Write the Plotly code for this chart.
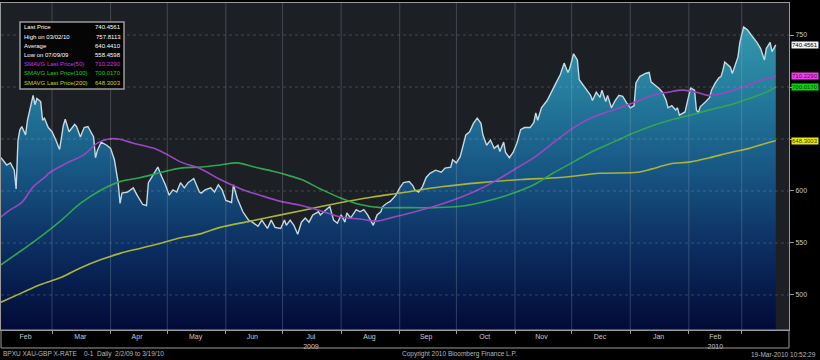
import plotly.graph_objects as go

# ---------------- data ----------------
price_dates = [
 "2009-02-02","2009-02-05","2009-02-07","2009-02-09","2009-02-10","2009-02-11","2009-02-12","2009-02-13",
 "2009-02-15","2009-02-16","2009-02-19","2009-02-20","2009-02-21","2009-02-23","2009-02-24","2009-02-25",
 "2009-02-27","2009-03-01","2009-03-03","2009-03-05","2009-03-07","2009-03-08","2009-03-10","2009-03-13",
 "2009-03-14","2009-03-16","2009-03-18","2009-03-20","2009-03-23","2009-03-24","2009-03-25","2009-03-27",
 "2009-03-30","2009-04-01","2009-04-03","2009-04-05","2009-04-06","2009-04-07","2009-04-10","2009-04-13",
 "2009-04-15","2009-04-18","2009-04-20","2009-04-21","2009-04-22","2009-04-25","2009-04-26","2009-04-28",
 "2009-04-30","2009-05-02","2009-05-04","2009-05-06","2009-05-08","2009-05-10","2009-05-12","2009-05-15",
 "2009-05-18","2009-05-19","2009-05-21","2009-05-24","2009-05-26","2009-05-28","2009-05-30","2009-06-01",
 "2009-06-04","2009-06-05","2009-06-07","2009-06-10","2009-06-13","2009-06-15","2009-06-18","2009-06-20",
 "2009-06-23","2009-06-25","2009-06-27","2009-06-30","2009-07-02","2009-07-03","2009-07-05","2009-07-07",
 "2009-07-09","2009-07-11","2009-07-13","2009-07-15","2009-07-17","2009-07-20","2009-07-21","2009-07-24",
 "2009-07-26","2009-07-28","2009-07-30","2009-08-01","2009-08-03","2009-08-04","2009-08-06","2009-08-09",
 "2009-08-11","2009-08-13","2009-08-15","2009-08-18","2009-08-20","2009-08-22","2009-08-23","2009-08-25",
 "2009-08-27","2009-08-30","2009-09-01","2009-09-03","2009-09-06","2009-09-08","2009-09-09","2009-09-11",
 "2009-09-13","2009-09-15","2009-09-17","2009-09-20","2009-09-23","2009-09-25","2009-09-28","2009-09-29",
 "2009-10-01","2009-10-03","2009-10-06","2009-10-08","2009-10-10","2009-10-12","2009-10-14","2009-10-15",
 "2009-10-17","2009-10-19","2009-10-21","2009-10-23","2009-10-24","2009-10-26","2009-10-27","2009-10-29",
 "2009-10-31","2009-11-02","2009-11-04","2009-11-06","2009-11-09","2009-11-11","2009-11-12","2009-11-13",
 "2009-11-15","2009-11-18","2009-11-21","2009-11-23","2009-11-25","2009-11-27","2009-11-29","2009-11-30",
 "2009-12-02","2009-12-04","2009-12-05","2009-12-07","2009-12-09","2009-12-11","2009-12-12","2009-12-14",
 "2009-12-16","2009-12-17","2009-12-19","2009-12-20","2009-12-22","2009-12-24","2009-12-26","2009-12-28",
 "2009-12-30","2010-01-01","2010-01-03","2010-01-04","2010-01-06","2010-01-09","2010-01-11","2010-01-12",
 "2010-01-14","2010-01-16","2010-01-18","2010-01-20","2010-01-21","2010-01-23","2010-01-25","2010-01-26",
 "2010-01-27","2010-01-30","2010-02-01","2010-02-02","2010-02-04","2010-02-05","2010-02-06","2010-02-07",
 "2010-02-10","2010-02-12","2010-02-13","2010-02-15","2010-02-17","2010-02-18","2010-02-19","2010-02-20",
 "2010-02-23","2010-02-24","2010-02-27","2010-02-28","2010-03-02","2010-03-04","2010-03-06","2010-03-09",
 "2010-03-11","2010-03-13","2010-03-14","2010-03-16","2010-03-17","2010-03-19"]
price_values = [
 632,625,627,620,602,649,659,662,
 654,668,692,683,689,686,668,670,
 661,657,649,640,663,669,657,664,
 662,652,661,662,652,632,639,647,
 644,641,630,608,588,598,599,603,
 596,587,586,608,611,620,623,614,
 606,596,601,599,608,603,608,612,
 599,598,601,603,599,606,601,591,
 589,606,593,580,572,570,566,572,
 564,572,565,564,572,567,572,567,
 558.46,570,574,570,577,580,577,582,
 585,572,569,577,570,579,574,582,
 580,582,577,567,577,580,585,588,
 590,596,603,608,609,605,601,599,
 604,613,617,620,618,622,623,630,
 627,633,654,657,665,670,665,654,
 644,649,641,644,638,647,637,632,
 637,646,659,661,661,666,675,668,
 680,687,697,705,712,723,714,718,
 732,726,707,702,697,692,687,695,
 690,697,686,692,680,687,692,691,
 685,680,682,704,710,713,714,705,
 702,699,695,687,680,682,678,680,
 673,676,692,699,697,678,675,681,
 686,690,697,704,709,710,716,724,
 719,713,729,743,757.81,755,750,743,
 737,726,737,743,734,740.46]

sma50_dates = ["2009-02-02","2009-02-07","2009-02-13","2009-02-19","2009-02-25","2009-02-28","2009-03-09",
 "2009-03-18","2009-03-25","2009-03-31","2009-04-05","2009-04-13","2009-04-24","2009-05-01","2009-05-08",
 "2009-05-19","2009-05-29","2009-06-09","2009-06-19","2009-06-30","2009-07-11","2009-07-21","2009-08-01",
 "2009-08-11","2009-08-20","2009-08-27","2009-09-07","2009-09-19","2009-09-29","2009-10-10","2009-10-21",
 "2009-10-31","2009-11-11","2009-11-21","2009-12-02","2009-12-12","2009-12-23","2010-01-03","2010-01-13",
 "2010-01-21","2010-01-29","2010-02-07","2010-02-11","2010-02-19","2010-02-28","2010-03-09","2010-03-16",
 "2010-03-19"]
sma50_values = [575,582,589,604,613,618,627,
 635,646,650,650,646,641,635,628,
 621,611,602,596,590,586,581,575,
 573,571,574,579,585,591,599,609,
 620,632,646,661,671,678,685,692,
 695,697,694,692,694,699,705,709,
 710.229]

sma100_dates = ["2009-02-02","2009-02-13","2009-02-23","2009-03-06","2009-03-16","2009-03-27","2009-04-06",
 "2009-04-17","2009-04-28","2009-05-08","2009-05-19","2009-05-29","2009-06-07","2009-06-16","2009-06-26",
 "2009-07-04","2009-07-11","2009-07-21","2009-08-01","2009-08-11","2009-08-22","2009-09-01","2009-09-19",
 "2009-10-02","2009-10-14","2009-10-28","2009-11-11","2009-11-21","2009-12-02","2009-12-12","2009-12-23",
 "2010-01-03","2010-01-13","2010-01-22","2010-02-02","2010-02-12","2010-02-23","2010-03-05","2010-03-14",
 "2010-03-19"]
sma100_values = [529,543,556,572,588,601,609,
 613,618,622,623,625,627,623,619,
 615,611,602,593,587,584,584,584,
 585,589,596,606,617,628,638,647,
 656,663,668,673,678,683,689,695,
 700.017]

sma200_dates = ["2009-02-02","2009-02-13","2009-02-23","2009-03-06","2009-03-16","2009-03-27","2009-04-06",
 "2009-04-17","2009-04-28","2009-05-08","2009-05-19","2009-05-29","2009-06-14","2009-06-30","2009-07-16",
 "2009-08-01","2009-08-17","2009-09-01","2009-09-23","2009-10-14","2009-11-04","2009-11-25","2009-12-16",
 "2010-01-05","2010-01-12","2010-01-22","2010-02-02","2010-02-12","2010-02-23","2010-03-05","2010-03-14",
 "2010-03-19"]
sma200_values = [493,502,510,517,526,534,540,
 545,550,555,559,565,571,577,583,
 589,594,598,604,608,611,613,617,
 618,621,626,628,632,637,641,646,
 648.3003]

legend_labels = ["Last Price", "High on 03/02/10", "Average", "Low on 07/09/09",
                 "SMAVG Last Price(50)", "SMAVG Last Price(100)", "SMAVG Last Price(200)"]
legend_values = ["740.4561", "757.8113", "640.4410", "558.4598",
                 "710.2290", "700.0170", "648.3003"]

month_starts = ["2009-03-01","2009-04-01","2009-05-01","2009-06-01","2009-07-01","2009-08-01",
                "2009-09-01","2009-10-01","2009-11-01","2009-12-01","2010-01-01","2010-02-01","2010-03-01"]
month_mids = ["2009-02-15","2009-03-16","2009-04-15","2009-05-16","2009-06-15","2009-07-16",
              "2009-08-16","2009-09-15","2009-10-16","2009-11-15","2009-12-16","2010-01-16","2010-02-15"]
month_labels = ["Feb","Mar","Apr","May","Jun","Jul<br>2009","Aug","Sep","Oct","Nov","Dec","Jan","Feb<br>2010"]
y_ticks = [500, 550, 600, 650, 700, 750]
# 650 and 700 are hidden behind the value boxes in the reference
y_ticktext = ["500", "550", "600", "", "", "750"]

# ---------------- styling ----------------
FONT = "Liberation Sans, Arial, sans-serif"
C50, C100, C200 = "#9a48c0", "#32a552", "#a9b43a"
LEG_COLS = ["#ffffff", "#ffffff", "#ffffff", "#ffffff", "#d030e0", "#22c822", "#d0d020"]

fig = go.Figure()

fig.add_trace(go.Scatter(
    x=price_dates, y=price_values, mode="lines",
    line=dict(color="#c4d9e2", width=1.4),
    fill="tozeroy",
    fillgradient=dict(type="vertical", start=466, stop=770,
                      colorscale=[[0.0, "#020a36"], [0.25, "#0b2c5e"], [0.5, "#175583"],
                                  [0.75, "#247c9c"], [1.0, "#379db0"]]),
    hoverinfo="skip", showlegend=False))

for xs, ys, col in [(sma200_dates, sma200_values, C200),
                    (sma100_dates, sma100_values, C100),
                    (sma50_dates, sma50_values, C50)]:
    fig.add_trace(go.Scatter(x=xs, y=ys, mode="lines", line=dict(color=col, width=1.6),
                             line_shape="spline", hoverinfo="skip", showlegend=False))

shapes = []
grid_col = "rgba(170,180,195,0.28)"
for m in month_starts:
    shapes.append(dict(type="line", xref="x", yref="paper", x0=m, x1=m, y0=0, y1=1,
                       line=dict(color=grid_col, width=1), layer="above"))
for v in y_ticks:
    shapes.append(dict(type="line", xref="paper", yref="y", x0=0, x1=1, y0=v, y1=v,
                       line=dict(color=grid_col, width=1, dash="dot"), layer="above"))
# axis-label box under the plot
shapes.append(dict(type="rect", xref="paper", yref="paper", x0=0, x1=1, y0=-0.055, y1=0,
                   line=dict(color="#9a9a9a", width=1), fillcolor="rgba(0,0,0,0)"))
# legend box
shapes.append(dict(type="rect", xref="paper", yref="paper", x0=0.0241, x1=0.1561, y0=0.737, y1=0.942,
                   line=dict(color="#9a9a9a", width=1.5), fillcolor="#050505", layer="above"))

ann = []
row_py = [27.5, 36.5, 46, 55, 64, 73, 82.5]
for lab, val, col, py in zip(legend_labels, legend_values, LEG_COLS, row_py):
    yp = (330 - py) / 327
    ann.append(dict(text=lab, xref="paper", yref="paper", x=0.0265, y=yp, xanchor="left",
                    yanchor="middle", showarrow=False, font=dict(family=FONT, size=6, color=col)))
    ann.append(dict(text=val, xref="paper", yref="paper", x=0.1545, y=yp, xanchor="right",
                    yanchor="middle", showarrow=False, font=dict(family=FONT, size=6, color=col)))

# current-value boxes on right axis
box_specs = [(price_values[-1], legend_values[0], "#f4f4f4", "#000000"),
             (sma50_values[-1], legend_values[4], "#ee44f0", "#5a005a"),
             (sma100_values[-1], legend_values[5], "#12d012", "#004000"),
             (sma200_values[-1], legend_values[6], "#e8e810", "#404000")]
for v, txt, bg, fg in box_specs:
    ann.append(dict(text=txt, xref="paper", yref="y", x=1, y=v, xanchor="left", yanchor="middle",
                    xshift=2, showarrow=False, bgcolor=bg, borderpad=0,
                    font=dict(family=FONT, size=6, color=fg)))

# footer
fy = (330 - 354) / 327
ann += [
    dict(text="BPXU XAU-GBP X-RATE &nbsp;&nbsp; 0-1 &nbsp;Daily &nbsp;2/2/09 to 3/19/10", xref="paper", yref="paper",
         x=0, y=fy, xanchor="left", yanchor="middle", showarrow=False,
         font=dict(family=FONT, size=6.5, color="#b8b8b8")),
    dict(text="Copyright 2010 Bloomberg Finance L.P.", xref="paper", yref="paper",
         x=(400 - 1) / 788, y=fy, xanchor="left", yanchor="middle", showarrow=False,
         font=dict(family=FONT, size=6.5, color="#b8b8b8")),
    dict(text="19-Mar-2010 10:52:29", xref="paper", yref="paper",
         x=(818 - 1) / 788, y=fy, xanchor="right", yanchor="middle", showarrow=False,
         font=dict(family=FONT, size=6.5, color="#b8b8b8")),
]

fig.update_layout(
    width=820, height=360,
    margin=dict(l=1, r=31, t=3, b=30),
    paper_bgcolor="#000000", plot_bgcolor="#1c1f24",
    shapes=shapes, annotations=ann, showlegend=False, hovermode=False,
    xaxis=dict(range=["2009-02-02", "2010-03-26"], type="date",
               tickvals=month_mids, ticktext=month_labels, ticks="",
               tickfont=dict(family=FONT, size=7, color="#c8c8c8"),
               showgrid=False, zeroline=False, fixedrange=True,
               showline=True, linecolor="#9a9a9a", linewidth=1, mirror=True,
               minor=dict(tickvals=month_starts, ticks="outside", ticklen=3, tickcolor="#9a9a9a",
                          showgrid=False)),
    yaxis=dict(range=[466.3, 780.8], side="right", tickvals=y_ticks, ticktext=y_ticktext,
               ticks="outside", ticklen=4, tickcolor="#9a9a9a",
               tickfont=dict(family=FONT, size=7, color="#c8c8c8"),
               showgrid=False, zeroline=False, fixedrange=True,
               showline=True, linecolor="#9a9a9a", linewidth=1, mirror=True),
)

fig.write_html("out.html", config={"displayModeBar": False, "staticPlot": True},
               post_script="document.body.style.margin='0';document.body.style.background='#000';")
